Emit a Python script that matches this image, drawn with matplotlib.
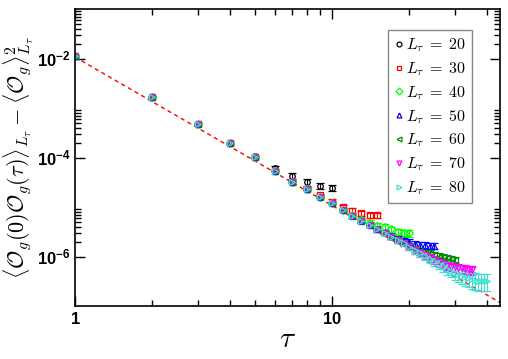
import numpy as np
import matplotlib
matplotlib.use("Agg")
import matplotlib.pyplot as plt
from matplotlib.lines import Line2D
from matplotlib.font_manager import FontProperties
from matplotlib.ticker import FixedLocator, FixedFormatter, NullFormatter

plt.rcParams['mathtext.fontset'] = 'custom'
plt.rcParams['mathtext.rm'] = 'Liberation Sans:bold'
plt.rcParams['mathtext.bf'] = 'Liberation Sans:bold'
plt.rcParams['mathtext.it'] = 'Liberation Sans:bold:italic'

# ---------------- data ----------------
L_values = [20, 30, 40, 50, 60, 70, 80]
colors = ['black', '#ff0000', '#00ff00', '#0000ff', '#008b00', '#ff00ff', '#40e0d0']
markers = ['o', 's', 'D', '^', '<', 'v', '>']

corr_L20 = [1.12e-2, 1.67e-3, 4.78e-4, 1.96e-4, 1.05e-4, 6.05e-5, 4.23e-5, 3.15e-5, 2.66e-5, 2.45e-5]
corr_L30 = [1.12e-2, 1.67e-3, 4.76e-4, 1.94e-4, 1.02e-4, 5.45e-5, 3.27e-5, 2.30e-5, 1.71e-5, 1.29e-5,
            1.00e-5, 8.41e-6, 7.46e-6, 6.89e-6, 6.80e-6]
corr_L40 = [1.12e-2, 1.67e-3, 4.75e-4, 1.94e-4, 1.01e-4, 5.42e-5, 3.24e-5, 2.28e-5, 1.62e-5, 1.21e-5,
            8.75e-6, 6.80e-6, 5.58e-6, 4.69e-6, 4.13e-6, 3.89e-6, 3.54e-6, 3.17e-6, 3.03e-6, 2.94e-6]
corr_L50 = [1.12e-2, 1.67e-3, 4.75e-4, 1.94e-4, 1.01e-4, 5.41e-5, 3.24e-5, 2.28e-5, 1.61e-5, 1.20e-5,
            8.70e-6, 6.58e-6, 5.30e-6, 4.35e-6, 3.58e-6, 3.10e-6, 2.65e-6, 2.31e-6, 2.11e-6, 1.96e-6,
            1.83e-6, 1.71e-6, 1.67e-6, 1.63e-6, 1.63e-6]
corr_L60 = [1.12e-2, 1.67e-3, 4.75e-4, 1.94e-4, 1.01e-4, 5.41e-5, 3.24e-5, 2.28e-5, 1.61e-5, 1.20e-5,
            8.69e-6, 6.57e-6, 5.28e-6, 4.32e-6, 3.54e-6, 3.04e-6, 2.52e-6, 2.17e-6, 1.87e-6, 1.63e-6,
            1.45e-6, 1.29e-6, 1.20e-6, 1.15e-6, 1.07e-6, 1.00e-6, 9.55e-7, 9.12e-7, 8.71e-7, 8.50e-7]
corr_L70 = [1.12e-2, 1.67e-3, 4.75e-4, 1.94e-4, 1.01e-4, 5.41e-5, 3.24e-5, 2.28e-5, 1.61e-5, 1.20e-5,
            8.69e-6, 6.57e-6, 5.28e-6, 4.32e-6, 3.54e-6, 3.03e-6, 2.51e-6, 2.15e-6, 1.85e-6, 1.58e-6,
            1.35e-6, 1.18e-6, 1.07e-6, 9.55e-7, 8.71e-7, 7.74e-7, 7.05e-7, 6.57e-7, 6.28e-7, 6.00e-7,
            5.86e-7, 5.73e-7, 5.59e-7, 5.46e-7, 5.33e-7]
corr_L80 = [1.12e-2, 1.67e-3, 4.75e-4, 1.94e-4, 1.01e-4, 5.41e-5, 3.24e-5, 2.28e-5, 1.61e-5, 1.20e-5,
            8.69e-6, 6.57e-6, 5.28e-6, 4.32e-6, 3.54e-6, 3.03e-6, 2.51e-6, 2.15e-6, 1.85e-6, 1.58e-6,
            1.35e-6, 1.18e-6, 1.03e-6, 9.03e-7, 7.96e-7, 7.09e-7, 6.31e-7, 5.65e-7, 5.21e-7, 4.75e-7,
            4.43e-7, 4.13e-7, 3.85e-7, 3.68e-7, 3.51e-7, 3.35e-7, 3.27e-7, 3.20e-7, 3.20e-7, 3.20e-7]

# relative error bars
relerr_L20 = [0.005, 0.01, 0.01, 0.02, 0.03, 0.12, 0.15, 0.15, 0.15, 0.15]
relerr_L30 = [0.005, 0.01, 0.01, 0.02, 0.02, 0.03, 0.04, 0.05, 0.08, 0.12, 0.12, 0.12, 0.12, 0.12, 0.12]
relerr_L40 = [0.005, 0.01, 0.01, 0.02, 0.02, 0.03, 0.03, 0.04, 0.05, 0.06, 0.08, 0.10, 0.12, 0.14, 0.14,
              0.14, 0.14, 0.15, 0.15, 0.15]
relerr_L50 = [0.005, 0.01, 0.01, 0.02, 0.02, 0.03, 0.03, 0.04, 0.05, 0.06, 0.06, 0.07, 0.08, 0.09, 0.10,
              0.12, 0.13, 0.14, 0.14, 0.15, 0.15, 0.15, 0.15, 0.15, 0.15]
relerr_L60 = [0.005, 0.01, 0.01, 0.02, 0.02, 0.03, 0.03, 0.04, 0.05, 0.06, 0.06, 0.07, 0.08, 0.09, 0.10,
              0.10, 0.11, 0.12, 0.13, 0.14, 0.14, 0.15, 0.15, 0.15, 0.15, 0.15, 0.15, 0.15, 0.15, 0.15]
relerr_L70 = [0.005, 0.01, 0.01, 0.02, 0.02, 0.03, 0.03, 0.04, 0.05, 0.06, 0.06, 0.07, 0.08, 0.09, 0.10,
              0.10, 0.11, 0.12, 0.13, 0.14, 0.15, 0.16, 0.17, 0.18, 0.19, 0.20, 0.20, 0.20, 0.20, 0.20,
              0.20, 0.20, 0.20, 0.20, 0.20]
relerr_L80 = [0.005, 0.01, 0.01, 0.02, 0.02, 0.03, 0.03, 0.04, 0.05, 0.06, 0.06, 0.07, 0.08, 0.09, 0.10,
              0.10, 0.11, 0.12, 0.13, 0.14, 0.15, 0.16, 0.17, 0.18, 0.19, 0.20, 0.22, 0.24, 0.26, 0.28,
              0.30, 0.32, 0.34, 0.35, 0.36, 0.37, 0.38, 0.38, 0.38, 0.38]

fit_amplitude = 0.0107
fit_exponent = 3.0
fit_tau_range = [1.0, 45.0]

series = [corr_L20, corr_L30, corr_L40, corr_L50, corr_L60, corr_L70, corr_L80]
errors = [relerr_L20, relerr_L30, relerr_L40, relerr_L50, relerr_L60, relerr_L70, relerr_L80]

# ---------------- figure ----------------
fig = plt.figure(figsize=(5.08, 3.59), dpi=100)
W, H = 508, 359
ax = fig.add_axes([75 / W, 1 - 306 / H, (500 - 75) / W, (306 - 9) / H])
ax.set_xscale('log')
ax.set_yscale('log')

tfit = np.geomspace(fit_tau_range[0], fit_tau_range[1], 200)
ax.plot(tfit, fit_amplitude * tfit ** (-fit_exponent), color='red', lw=1.0,
        dashes=(3, 2.5), zorder=1)

for L, vals, rel, c, m in zip(L_values, series, errors, colors, markers):
    vals = np.asarray(vals)
    tau = np.arange(1, len(vals) + 1)
    ax.errorbar(tau, vals, yerr=vals * np.asarray(rel), fmt=m, ms=4, mfc='none',
                mec=c, mew=0.9, ecolor=c, elinewidth=0.8, capsize=3, capthick=0.8,
                zorder=2)

ax.set_xlim(1, 45)
ax.set_ylim(1e-7, 1e-1)

ax.xaxis.set_major_locator(FixedLocator([1, 10]))
ax.xaxis.set_major_formatter(FixedFormatter([r'$\mathbf{1}$', r'$\mathbf{10}$']))
ax.xaxis.set_minor_locator(FixedLocator([2, 3, 4, 5, 6, 7, 8, 9, 20, 30, 40]))
ax.xaxis.set_minor_formatter(NullFormatter())

ax.yaxis.set_major_locator(FixedLocator([1e-6, 1e-4, 1e-2]))
ax.yaxis.set_major_formatter(FixedFormatter([r'$\mathbf{10^{-6}}$', r'$\mathbf{10^{-4}}$',
                                             r'$\mathbf{10^{-2}}$']))
yminor = [k * 10.0 ** e for e in (-6, -4, -2) for k in range(2, 10)]
ax.yaxis.set_minor_locator(FixedLocator(yminor))
ax.yaxis.set_minor_formatter(NullFormatter())

ax.tick_params(which='both', direction='in', top=True, right=True, width=1.0)
ax.tick_params(which='major', length=7, labelsize=12, pad=3)
ax.tick_params(which='minor', length=4)
for sp in ax.spines.values():
    sp.set_linewidth(1.2)

ax.set_xlabel(r'$\tau$', fontsize=21, math_fontfamily='cm', labelpad=-2)
ax.set_ylabel(r'$\langle \mathcal{O}_g(0)\mathcal{O}_g(\tau)\rangle_{L_\tau} - \langle \mathcal{O}_g\rangle^2_{L_\tau}$',
              fontsize=16, math_fontfamily='cm', labelpad=1)

handles = [Line2D([], [], ls='none', marker=m, ms=3.5, mfc='none', mec=c, mew=0.9)
           for c, m in zip(colors, markers)]
labels = [r'$L_\tau\;=\;%d$' % L for L in L_values]
leg = ax.legend(handles, labels, loc='upper right', bbox_to_anchor=(0.934, 0.929),
                borderaxespad=0, prop=FontProperties(size=11.5, math_fontfamily='cm'),
                handlelength=0.6, handletextpad=0.1, labelspacing=0.38, borderpad=0.4,
                fancybox=False, framealpha=1, edgecolor='#888888')
leg.get_frame().set_linewidth(1.0)

fig.savefig('out.png', dpi=100)
